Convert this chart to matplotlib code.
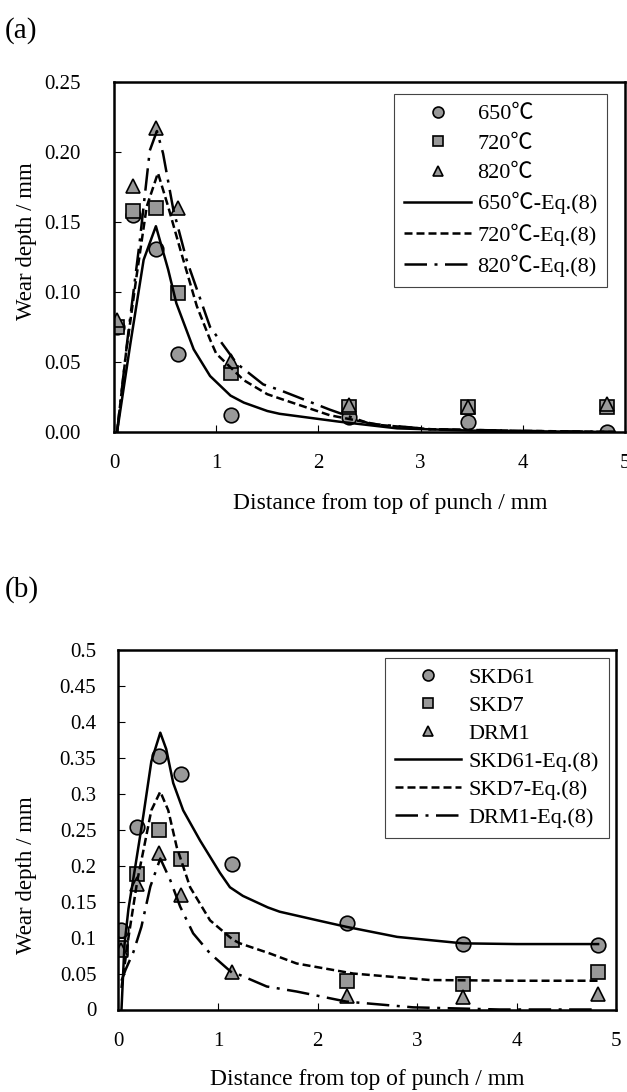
import matplotlib
matplotlib.use('Agg')
import matplotlib.pyplot as plt

plt.rcParams['font.family'] = ['Liberation Serif', 'Noto Sans CJK JP', 'DejaVu Serif']

# measured positions (mm from top of punch)
dist = [0.03, 0.19, 0.41, 0.63, 1.14, 2.30, 3.46, 4.82]

# (a) wear depth at three temperatures
w650 = [0.075, 0.155, 0.131, 0.056, 0.012, 0.011, 0.007, 0.000]
w720 = [0.075, 0.158, 0.160, 0.099, 0.042, 0.018, 0.018, 0.018]
w820 = [0.080, 0.176, 0.217, 0.160, 0.051, 0.019, 0.018, 0.020]

# (a) Eq.(8) curves
cx650 = [0.03, 0.16, 0.29, 0.41, 0.53, 0.61, 0.78, 0.94, 1.14, 1.27, 1.50, 1.62, 2.20, 2.77, 3.5, 4.1, 4.9]
cy650 = [0.0, 0.063, 0.123, 0.147, 0.116, 0.092, 0.059, 0.040, 0.026, 0.021, 0.015, 0.013, 0.0074, 0.0026, 0.001, 0.0005, 0.0]
cx720 = [0.03, 0.12, 0.22, 0.32, 0.43, 0.53, 0.65, 0.81, 0.94, 1.0, 1.27, 1.50, 1.62, 2.11, 2.60, 3.09, 4.0, 4.9]
cy720 = [0.0, 0.058, 0.111, 0.161, 0.185, 0.161, 0.130, 0.090, 0.066, 0.056, 0.037, 0.027, 0.024, 0.012, 0.005, 0.002, 0.0008, 0.0]
cx820 = [0.03, 0.13, 0.25, 0.35, 0.42, 0.48, 0.58, 0.71, 0.94, 1.20, 1.46, 1.62, 2.11, 2.50, 3.09, 4.0, 4.9]
cy820 = [0.0, 0.065, 0.135, 0.201, 0.215, 0.199, 0.159, 0.123, 0.075, 0.049, 0.034, 0.030, 0.016, 0.006, 0.002, 0.0008, 0.0]

# (b) wear depth for three die steels
skd61 = [0.110, 0.254, 0.352, 0.327, 0.202, 0.120, 0.091, 0.090]
skd7 = [0.085, 0.189, 0.249, 0.209, 0.096, 0.039, 0.035, 0.052]
drm1 = [0.083, 0.175, 0.217, 0.159, 0.052, 0.019, 0.017, 0.021]

cxs61 = [0.03, 0.06, 0.10, 0.17, 0.25, 0.33, 0.42, 0.48, 0.55, 0.65, 0.82, 1.02, 1.12, 1.25, 1.50, 1.62, 2.0, 2.29, 2.80, 3.46, 4.0, 4.82]
cys61 = [0.0, 0.09, 0.14, 0.20, 0.27, 0.345, 0.385, 0.362, 0.315, 0.277, 0.235, 0.190, 0.170, 0.158, 0.142, 0.136, 0.124, 0.115, 0.101, 0.092, 0.091, 0.091]
cxs7 = [0.03, 0.10, 0.19, 0.25, 0.33, 0.42, 0.50, 0.585, 0.72, 0.92, 1.15, 1.22, 1.52, 1.79, 2.36, 3.13, 4.0, 4.82]
cys7 = [0.03, 0.10, 0.18, 0.221, 0.277, 0.303, 0.277, 0.226, 0.170, 0.124, 0.097, 0.092, 0.078, 0.064, 0.050, 0.041, 0.040, 0.040]
cxd1 = [0.03, 0.07, 0.15, 0.23, 0.32, 0.42, 0.52, 0.62, 0.75, 0.92, 1.15, 1.22, 1.49, 1.79, 2.29, 2.96, 3.83, 4.82]
cyd1 = [0.04, 0.055, 0.080, 0.115, 0.171, 0.210, 0.180, 0.143, 0.106, 0.078, 0.050, 0.048, 0.032, 0.025, 0.011, 0.003, 0.0, 0.0]

yt_a = [0.0, 0.05, 0.10, 0.15, 0.20, 0.25]
yl_a = ['0.00', '0.05', '0.10', '0.15', '0.20', '0.25']
yt_b = [0, 0.05, 0.1, 0.15, 0.2, 0.25, 0.3, 0.35, 0.4, 0.45, 0.5]
yl_b = ['0', '0.05', '0.1', '0.15', '0.2', '0.25', '0.3', '0.35', '0.4', '0.45', '0.5']
xt = [0, 1, 2, 3, 4, 5]

fig = plt.figure(figsize=(6.27, 10.92), dpi=100)
ax1 = fig.add_axes([114 / 627, 1 - 432 / 1092, 511 / 627, 350 / 1092])
ax2 = fig.add_axes([118.5 / 627, 1 - 1009.5 / 1092, 497.5 / 627, 359.5 / 1092])

gray = '#999999'
mk = dict(linestyle='none', markerfacecolor=gray, markeredgecolor='black', markeredgewidth=1.2)
dash = (0, (3.2, 1.6))
dashdot = (0, (9, 3, 1.2, 3))
leg_kw = dict(loc='upper right', fontsize=16, frameon=True, fancybox=False, edgecolor='#444444',
              framealpha=1, borderaxespad=0, handlelength=3.0, handletextpad=0.3,
              borderpad=0.45, markerscale=0.75)


def draw(ax, ys, curves, names):
    ax.plot(dist, ys[0], marker='o', markersize=10.5, label=names[0], **mk)
    ax.plot(dist, ys[1], marker='s', markersize=10.5, label=names[1], **mk)
    ax.plot(dist, ys[2], marker='^', markersize=10, label=names[2], **mk)
    ax.plot(curves[0][0], curves[0][1], color='black', lw=1.8, label=names[0] + '-Eq.(8)')
    ax.plot(curves[1][0], curves[1][1], color='black', lw=1.8, linestyle=dash, label=names[1] + '-Eq.(8)')
    ax.plot(curves[2][0], curves[2][1], color='black', lw=1.8, linestyle=dashdot, label=names[2] + '-Eq.(8)')
    for s in ax.spines.values():
        s.set_linewidth(1.8)
    ax.set_xlim(0, 5)
    ax.set_xticks(xt)
    ax.tick_params(direction='in', length=5, width=0.8, labelsize=15, top=False, right=False)
    ax.tick_params(axis='x', pad=16)
    ax.set_xlabel('Distance from top of punch / mm', fontsize=17)
    ax.set_ylabel('Wear depth / mm', fontsize=16.5)


draw(ax1, [w650, w720, w820], [(cx650, cy650), (cx720, cy720), (cx820, cy820)],
     ['650℃', '720℃', '820℃'])
ax1.set_ylim(0, 0.25)
ax1.set_yticks(yt_a)
ax1.set_yticklabels(yl_a)
ax1.tick_params(axis='y', pad=24)
ax1.xaxis.set_label_coords(0.54, -0.175)
ax1.yaxis.set_label_coords(-0.15, 0.546)
ax1.legend(bbox_to_anchor=(0.9645, 0.966), labelspacing=0.4, **leg_kw).get_frame().set_linewidth(0.8)

draw(ax2, [skd61, skd7, drm1], [(cxs61, cys61), (cxs7, cys7), (cxd1, cyd1)],
     ['SKD61', 'SKD7', 'DRM1'])
ax2.set_ylim(0, 0.5)
ax2.set_yticks(yt_b)
ax2.set_yticklabels(yl_b)
ax2.tick_params(axis='y', pad=16)
ax2.xaxis.set_label_coords(0.5, -0.165)
ax2.yaxis.set_label_coords(-0.164, 0.374)
ax2.legend(bbox_to_anchor=(0.985, 0.979), labelspacing=0.33, **leg_kw).get_frame().set_linewidth(0.8)

fig.text(5 / 627, 1 - 31 / 1092, '(a)', fontsize=21, va='center', ha='left')
fig.text(5 / 627, 1 - 590 / 1092, '(b)', fontsize=21, va='center', ha='left')

fig.savefig('out.png', dpi=100)
